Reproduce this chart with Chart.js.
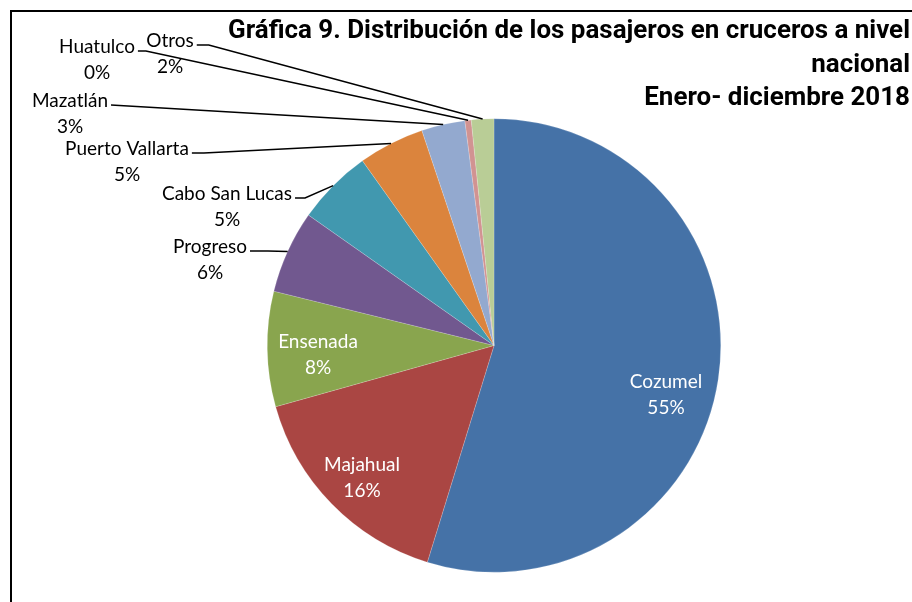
<!DOCTYPE html>
<html>
<head>
<meta charset="utf-8">
<script src="https://cdn.jsdelivr.net/npm/chart.js@4.4.1/dist/chart.umd.min.js"></script>
<style>
  html, body { margin: 0; padding: 0; background: #fff; }
  canvas { display: block; }
</style>
</head>
<body>
<canvas id="chart" width="912" height="602"></canvas>
<script>
// data (share of passengers, %)
const ports = ['Cozumel', 'Majahual', 'Ensenada', 'Progreso', 'Cabo San Lucas', 'Puerto Vallarta', 'Mazatlán', 'Huatulco', 'Otros'];
const shares = [54.75, 15.9, 8.2, 5.9, 5.4, 4.7, 3.1, 0.45, 1.6];
const sliceColors = ['#4572A7', '#AA4643', '#89A54E', '#71588F', '#4198AF', '#DB843D', '#93A9CF', '#D19392', '#B9CD96'];
const titleLines = ['Gráfica 9. Distribución de los pasajeros en cruceros a nivel', 'nacional', 'Enero- diciembre 2018'];

// where the data labels sit (baseline of the name line), like excel's manual placing
const labelPos = [
  { x: 666, y: 388, inside: true },
  { x: 362, y: 471, inside: true },
  { x: 318, y: 348, inside: true },
  { x: 210, y: 253, stub: 18 },
  { x: 227, y: 200, stub: 10 },
  { x: 127, y: 155, stub: 12 },
  { x: 70, y: 107, stub: 0 },
  { x: 97, y: 53, stub: 8 },
  { x: 170, y: 47, stub: 12 }
];

const labelFont = '19px Lato';

const decorations = {
  id: 'decorations',
  afterDraw(chart) {
    const ctx = chart.ctx;
    const total = shares.reduce((a, b) => a + b, 0);
    const arcs = chart.getDatasetMeta(0).data;

    ctx.save();
    // frame (only top and left show inside the picture)
    ctx.strokeStyle = '#000';
    ctx.lineWidth = 2;
    ctx.strokeRect(11, 11, 960, 660);

    // title, right aligned and a bit condensed
    ctx.fillStyle = '#000';
    ctx.font = 'bold 25px Roboto';
    ctx.textAlign = 'right';
    ctx.textBaseline = 'alphabetic';
    const f = 682 / ctx.measureText(titleLines[0]).width;
    ctx.save();
    ctx.translate(910, 0);
    ctx.scale(f, 1);
    ctx.fillText(titleLines[0], 0, 38);
    ctx.fillText(titleLines[1], 0, 72);
    ctx.fillText(titleLines[2], 0, 105);
    ctx.restore();

    // data labels
    ctx.font = labelFont;
    ctx.textAlign = 'center';
    arcs.forEach((arc, i) => {
      const p = labelPos[i];
      const pct = Math.round(shares[i] / total * 100) + '%';
      ctx.fillStyle = p.inside ? '#fff' : '#000';
      ctx.fillText(ports[i], p.x, p.y);
      ctx.fillText(pct, p.x, p.y + 26);
      if (p.inside) return;

      const { x, y, startAngle, endAngle, outerRadius } = arc.getProps(['x', 'y', 'startAngle', 'endAngle', 'outerRadius'], true);
      const mid = (startAngle + endAngle) / 2;
      const ax = x + Math.cos(mid) * outerRadius;
      const ay = y + Math.sin(mid) * outerRadius;
      const w = ctx.measureText(ports[i]).width;
      const sx = p.x + w / 2 + 3;
      const sy = p.y - 2;
      ctx.beginPath();
      ctx.strokeStyle = '#000';
      ctx.lineWidth = 1.5;
      ctx.moveTo(sx, sy);
      ctx.lineTo(sx + p.stub, sy);
      ctx.lineTo(ax, ay);
      ctx.stroke();
    });
    ctx.restore();
  }
};

new Chart(document.getElementById('chart'), {
  type: 'pie',
  data: {
    labels: ports,
    datasets: [{
      data: shares,
      backgroundColor: sliceColors,
      borderColor: 'rgba(255,255,255,0.35)',
      borderWidth: 0.5
    }]
  },
  options: {
    responsive: false,
    animation: false,
    layout: { padding: { left: 267, right: 191, top: 118, bottom: 29 } },
    plugins: {
      legend: { display: false },
      tooltip: { enabled: false }
    }
  },
  plugins: [decorations]
});
</script>
</body>
</html>
